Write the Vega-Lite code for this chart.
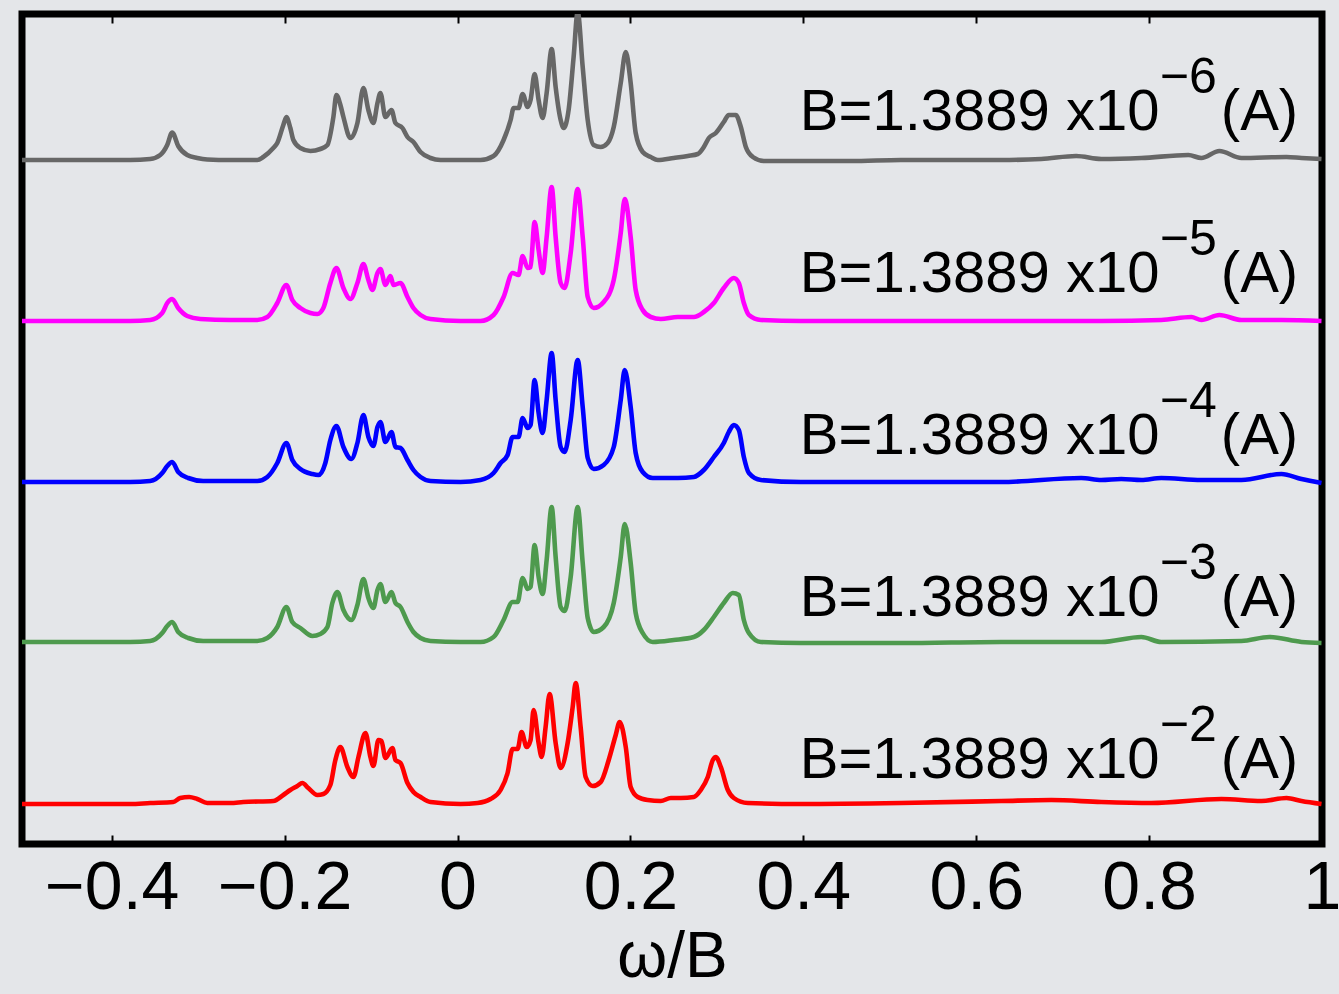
{
"$schema": "https://vega.github.io/schema/vega-lite/v6.json",
"width": 1300, "height": 830,
"autosize": {"type": "none"},
"padding": {"left": 22, "top": 14, "right": 17, "bottom": 150},
"background": "#e4e6e9",
"config": {"view": {"stroke": "#000000", "strokeWidth": 7, "fill": "#e4e6e9"}, "font": "Liberation Sans"},
"datasets": {
"curves": [
{"s":"a","x":-0.5038,"y":684},{"s":"a","x":-0.4598,"y":684},{"s":"a","x":-0.4134,"y":684},{"s":"a","x":-0.3787,"y":684},{"s":"a","x":-0.3555,"y":685},{"s":"a","x":-0.3439,"y":689},{"s":"a","x":-0.3358,"y":699},{"s":"a","x":-0.3301,"y":711.5},{"s":"a","x":-0.3231,"y":698},{"s":"a","x":-0.3127,"y":689},{"s":"a","x":-0.3011,"y":686},{"s":"a","x":-0.2895,"y":684.5},{"s":"a","x":-0.2629,"y":684},{"s":"a","x":-0.2316,"y":684},{"s":"a","x":-0.2247,"y":687},{"s":"a","x":-0.2131,"y":696},{"s":"a","x":-0.2085,"y":701},{"s":"a","x":-0.2015,"y":719},{"s":"a","x":-0.198,"y":727},{"s":"a","x":-0.1934,"y":716},{"s":"a","x":-0.1899,"y":704},{"s":"a","x":-0.1818,"y":696},{"s":"a","x":-0.1702,"y":693},{"s":"a","x":-0.1587,"y":695},{"s":"a","x":-0.1505,"y":699},{"s":"a","x":-0.1436,"y":727},{"s":"a","x":-0.1401,"y":749},{"s":"a","x":-0.1355,"y":739},{"s":"a","x":-0.132,"y":727},{"s":"a","x":-0.1239,"y":706},{"s":"a","x":-0.1158,"y":721},{"s":"a","x":-0.1089,"y":756},{"s":"a","x":-0.1031,"y":734},{"s":"a","x":-0.0973,"y":721},{"s":"a","x":-0.0926,"y":741},{"s":"a","x":-0.0892,"y":751},{"s":"a","x":-0.0834,"y":727},{"s":"a","x":-0.0764,"y":734},{"s":"a","x":-0.0718,"y":721},{"s":"a","x":-0.0637,"y":716},{"s":"a","x":-0.0579,"y":707},{"s":"a","x":-0.051,"y":702},{"s":"a","x":-0.0428,"y":692},{"s":"a","x":-0.0313,"y":686},{"s":"a","x":-0.0197,"y":684},{"s":"a","x":0.0035,"y":684},{"s":"a","x":0.0266,"y":684},{"s":"a","x":0.0417,"y":688},{"s":"a","x":0.0533,"y":704},{"s":"a","x":0.0614,"y":724},{"s":"a","x":0.0649,"y":736},{"s":"a","x":0.0706,"y":736},{"s":"a","x":0.0753,"y":750},{"s":"a","x":0.0811,"y":737},{"s":"a","x":0.0845,"y":744},{"s":"a","x":0.0892,"y":770},{"s":"a","x":0.0938,"y":744},{"s":"a","x":0.0984,"y":726},{"s":"a","x":0.1031,"y":751},{"s":"a","x":0.1089,"y":795},{"s":"a","x":0.1135,"y":757},{"s":"a","x":0.1193,"y":724},{"s":"a","x":0.1228,"y":716},{"s":"a","x":0.1285,"y":734},{"s":"a","x":0.1343,"y":787},{"s":"a","x":0.139,"y":832},{"s":"a","x":0.1448,"y":777},{"s":"a","x":0.1506,"y":724},{"s":"a","x":0.1575,"y":699},{"s":"a","x":0.1656,"y":697},{"s":"a","x":0.1737,"y":701},{"s":"a","x":0.1807,"y":717},{"s":"a","x":0.1888,"y":761},{"s":"a","x":0.1946,"y":792},{"s":"a","x":0.2003,"y":761},{"s":"a","x":0.2061,"y":711},{"s":"a","x":0.2142,"y":692},{"s":"a","x":0.2235,"y":687},{"s":"a","x":0.2316,"y":684},{"s":"a","x":0.2501,"y":686},{"s":"a","x":0.2664,"y":688},{"s":"a","x":0.2779,"y":690},{"s":"a","x":0.2849,"y":697},{"s":"a","x":0.2907,"y":706},{"s":"a","x":0.2988,"y":711},{"s":"a","x":0.308,"y":722},{"s":"a","x":0.3138,"y":729},{"s":"a","x":0.3219,"y":729},{"s":"a","x":0.3277,"y":717},{"s":"a","x":0.3335,"y":697},{"s":"a","x":0.3416,"y":687},{"s":"a","x":0.3544,"y":683},{"s":"a","x":0.3972,"y":683},{"s":"a","x":0.4551,"y":683},{"s":"a","x":0.513,"y":684},{"s":"a","x":0.5709,"y":684},{"s":"a","x":0.6288,"y":684},{"s":"a","x":0.6752,"y":685},{"s":"a","x":0.7157,"y":688},{"s":"a","x":0.7446,"y":685},{"s":"a","x":0.791,"y":686},{"s":"a","x":0.8454,"y":689},{"s":"a","x":0.8604,"y":686},{"s":"a","x":0.8813,"y":693},{"s":"a","x":0.9068,"y":686},{"s":"a","x":0.9589,"y":687},{"s":"a","x":0.9763,"y":686},{"s":"a","x":0.9994,"y":685},
{"s":"b","x":-0.5038,"y":523},{"s":"b","x":-0.4598,"y":523},{"s":"b","x":-0.4134,"y":523},{"s":"b","x":-0.3787,"y":523},{"s":"b","x":-0.3555,"y":524},{"s":"b","x":-0.3416,"y":531},{"s":"b","x":-0.3358,"y":541},{"s":"b","x":-0.3301,"y":545},{"s":"b","x":-0.3231,"y":536},{"s":"b","x":-0.3127,"y":528},{"s":"b","x":-0.2976,"y":525},{"s":"b","x":-0.2629,"y":524},{"s":"b","x":-0.2316,"y":524},{"s":"b","x":-0.22,"y":527},{"s":"b","x":-0.2085,"y":541},{"s":"b","x":-0.198,"y":559},{"s":"b","x":-0.1911,"y":544},{"s":"b","x":-0.1818,"y":536},{"s":"b","x":-0.1702,"y":531},{"s":"b","x":-0.1621,"y":530},{"s":"b","x":-0.1552,"y":536},{"s":"b","x":-0.1471,"y":561},{"s":"b","x":-0.1401,"y":576},{"s":"b","x":-0.132,"y":556},{"s":"b","x":-0.1239,"y":545},{"s":"b","x":-0.1158,"y":561},{"s":"b","x":-0.1089,"y":580},{"s":"b","x":-0.1031,"y":564},{"s":"b","x":-0.0984,"y":554},{"s":"b","x":-0.0926,"y":571},{"s":"b","x":-0.0892,"y":575},{"s":"b","x":-0.0834,"y":559},{"s":"b","x":-0.0776,"y":568},{"s":"b","x":-0.0741,"y":559},{"s":"b","x":-0.066,"y":561},{"s":"b","x":-0.0579,"y":547},{"s":"b","x":-0.051,"y":536},{"s":"b","x":-0.0428,"y":529},{"s":"b","x":-0.0313,"y":525},{"s":"b","x":0.0035,"y":523},{"s":"b","x":0.0266,"y":523},{"s":"b","x":0.0417,"y":529},{"s":"b","x":0.0533,"y":547},{"s":"b","x":0.0637,"y":571},{"s":"b","x":0.0706,"y":569},{"s":"b","x":0.0753,"y":588},{"s":"b","x":0.0811,"y":576},{"s":"b","x":0.0845,"y":577},{"s":"b","x":0.0892,"y":622},{"s":"b","x":0.0938,"y":594},{"s":"b","x":0.0984,"y":571},{"s":"b","x":0.1031,"y":607},{"s":"b","x":0.1089,"y":657},{"s":"b","x":0.1135,"y":607},{"s":"b","x":0.1193,"y":561},{"s":"b","x":0.1239,"y":556},{"s":"b","x":0.1309,"y":591},{"s":"b","x":0.139,"y":655},{"s":"b","x":0.1448,"y":607},{"s":"b","x":0.1506,"y":547},{"s":"b","x":0.1575,"y":536},{"s":"b","x":0.1691,"y":542},{"s":"b","x":0.1807,"y":564},{"s":"b","x":0.1888,"y":611},{"s":"b","x":0.1934,"y":645},{"s":"b","x":0.2003,"y":607},{"s":"b","x":0.2061,"y":554},{"s":"b","x":0.2142,"y":534},{"s":"b","x":0.2235,"y":527},{"s":"b","x":0.2351,"y":525},{"s":"b","x":0.2548,"y":527},{"s":"b","x":0.2733,"y":527},{"s":"b","x":0.2849,"y":532},{"s":"b","x":0.2965,"y":541},{"s":"b","x":0.308,"y":556},{"s":"b","x":0.3196,"y":566},{"s":"b","x":0.3254,"y":561},{"s":"b","x":0.3312,"y":541},{"s":"b","x":0.337,"y":529},{"s":"b","x":0.3509,"y":524},{"s":"b","x":0.3972,"y":523},{"s":"b","x":0.513,"y":523},{"s":"b","x":0.6288,"y":523},{"s":"b","x":0.7446,"y":523},{"s":"b","x":0.8141,"y":524},{"s":"b","x":0.8489,"y":527},{"s":"b","x":0.8604,"y":524},{"s":"b","x":0.8813,"y":529},{"s":"b","x":0.9068,"y":524},{"s":"b","x":0.9531,"y":524},{"s":"b","x":0.9994,"y":523},
{"s":"c","x":-0.5038,"y":362},{"s":"c","x":-0.4598,"y":362},{"s":"c","x":-0.4134,"y":362},{"s":"c","x":-0.3787,"y":362},{"s":"c","x":-0.3555,"y":363},{"s":"c","x":-0.3416,"y":371},{"s":"c","x":-0.3358,"y":378},{"s":"c","x":-0.3301,"y":382},{"s":"c","x":-0.3231,"y":372},{"s":"c","x":-0.3115,"y":366},{"s":"c","x":-0.2942,"y":363},{"s":"c","x":-0.2316,"y":363},{"s":"c","x":-0.22,"y":367},{"s":"c","x":-0.2085,"y":381},{"s":"c","x":-0.198,"y":401},{"s":"c","x":-0.1911,"y":384},{"s":"c","x":-0.1818,"y":375},{"s":"c","x":-0.1679,"y":370},{"s":"c","x":-0.161,"y":369},{"s":"c","x":-0.1529,"y":381},{"s":"c","x":-0.1471,"y":404},{"s":"c","x":-0.1401,"y":418},{"s":"c","x":-0.132,"y":397},{"s":"c","x":-0.1228,"y":385},{"s":"c","x":-0.1158,"y":401},{"s":"c","x":-0.1089,"y":429},{"s":"c","x":-0.1031,"y":407},{"s":"c","x":-0.0973,"y":398},{"s":"c","x":-0.0926,"y":417},{"s":"c","x":-0.0892,"y":422},{"s":"c","x":-0.0834,"y":402},{"s":"c","x":-0.0764,"y":412},{"s":"c","x":-0.0718,"y":397},{"s":"c","x":-0.066,"y":396},{"s":"c","x":-0.0579,"y":384},{"s":"c","x":-0.051,"y":374},{"s":"c","x":-0.0428,"y":367},{"s":"c","x":-0.0313,"y":363},{"s":"c","x":0.0035,"y":362},{"s":"c","x":0.0266,"y":364},{"s":"c","x":0.0417,"y":371},{"s":"c","x":0.0498,"y":381},{"s":"c","x":0.0579,"y":389},{"s":"c","x":0.0637,"y":407},{"s":"c","x":0.0706,"y":407},{"s":"c","x":0.0753,"y":426},{"s":"c","x":0.0811,"y":416},{"s":"c","x":0.0845,"y":419},{"s":"c","x":0.0892,"y":464},{"s":"c","x":0.0938,"y":431},{"s":"c","x":0.0984,"y":411},{"s":"c","x":0.1031,"y":444},{"s":"c","x":0.1089,"y":491},{"s":"c","x":0.1135,"y":444},{"s":"c","x":0.1193,"y":397},{"s":"c","x":0.1239,"y":392},{"s":"c","x":0.1309,"y":424},{"s":"c","x":0.139,"y":484},{"s":"c","x":0.1448,"y":437},{"s":"c","x":0.1506,"y":386},{"s":"c","x":0.1575,"y":375},{"s":"c","x":0.1691,"y":379},{"s":"c","x":0.1807,"y":397},{"s":"c","x":0.1888,"y":444},{"s":"c","x":0.1934,"y":474},{"s":"c","x":0.2003,"y":437},{"s":"c","x":0.2061,"y":391},{"s":"c","x":0.2142,"y":372},{"s":"c","x":0.2258,"y":366},{"s":"c","x":0.2548,"y":366},{"s":"c","x":0.2733,"y":367},{"s":"c","x":0.2849,"y":374},{"s":"c","x":0.2965,"y":387},{"s":"c","x":0.308,"y":401},{"s":"c","x":0.3138,"y":412},{"s":"c","x":0.3196,"y":419},{"s":"c","x":0.3254,"y":414},{"s":"c","x":0.3312,"y":387},{"s":"c","x":0.337,"y":371},{"s":"c","x":0.3509,"y":364},{"s":"c","x":0.3972,"y":362},{"s":"c","x":0.513,"y":362},{"s":"c","x":0.6288,"y":362},{"s":"c","x":0.7215,"y":366},{"s":"c","x":0.7446,"y":364},{"s":"c","x":0.7678,"y":365},{"s":"c","x":0.791,"y":364},{"s":"c","x":0.8141,"y":366},{"s":"c","x":0.8604,"y":364},{"s":"c","x":0.9068,"y":364},{"s":"c","x":0.9531,"y":370},{"s":"c","x":0.9763,"y":365},{"s":"c","x":0.9994,"y":361},
{"s":"d","x":-0.5038,"y":202},{"s":"d","x":-0.4598,"y":202},{"s":"d","x":-0.4134,"y":202},{"s":"d","x":-0.3787,"y":202},{"s":"d","x":-0.3555,"y":203},{"s":"d","x":-0.3416,"y":211},{"s":"d","x":-0.3358,"y":218},{"s":"d","x":-0.3301,"y":222},{"s":"d","x":-0.3231,"y":212},{"s":"d","x":-0.3115,"y":206},{"s":"d","x":-0.2942,"y":203},{"s":"d","x":-0.2316,"y":203},{"s":"d","x":-0.22,"y":206},{"s":"d","x":-0.2085,"y":217},{"s":"d","x":-0.198,"y":237},{"s":"d","x":-0.1911,"y":222},{"s":"d","x":-0.1818,"y":216},{"s":"d","x":-0.1679,"y":208},{"s":"d","x":-0.1587,"y":210},{"s":"d","x":-0.1505,"y":217},{"s":"d","x":-0.1448,"y":241},{"s":"d","x":-0.139,"y":252},{"s":"d","x":-0.132,"y":234},{"s":"d","x":-0.1228,"y":224},{"s":"d","x":-0.1158,"y":239},{"s":"d","x":-0.1089,"y":265},{"s":"d","x":-0.1031,"y":246},{"s":"d","x":-0.0973,"y":236},{"s":"d","x":-0.0926,"y":254},{"s":"d","x":-0.0892,"y":260},{"s":"d","x":-0.0834,"y":242},{"s":"d","x":-0.0764,"y":252},{"s":"d","x":-0.0718,"y":241},{"s":"d","x":-0.066,"y":237},{"s":"d","x":-0.0579,"y":222},{"s":"d","x":-0.051,"y":212},{"s":"d","x":-0.0428,"y":206},{"s":"d","x":-0.0313,"y":203},{"s":"d","x":0.0035,"y":202},{"s":"d","x":0.0266,"y":202},{"s":"d","x":0.0417,"y":207},{"s":"d","x":0.0533,"y":224},{"s":"d","x":0.0637,"y":242},{"s":"d","x":0.0695,"y":242},{"s":"d","x":0.0753,"y":266},{"s":"d","x":0.0811,"y":255},{"s":"d","x":0.0845,"y":257},{"s":"d","x":0.0892,"y":299},{"s":"d","x":0.0938,"y":267},{"s":"d","x":0.0984,"y":250},{"s":"d","x":0.1031,"y":284},{"s":"d","x":0.1089,"y":337},{"s":"d","x":0.1135,"y":287},{"s":"d","x":0.1193,"y":237},{"s":"d","x":0.1239,"y":233},{"s":"d","x":0.1309,"y":267},{"s":"d","x":0.139,"y":337},{"s":"d","x":0.1448,"y":281},{"s":"d","x":0.1506,"y":226},{"s":"d","x":0.1575,"y":212},{"s":"d","x":0.1691,"y":217},{"s":"d","x":0.1807,"y":241},{"s":"d","x":0.1888,"y":287},{"s":"d","x":0.1934,"y":320},{"s":"d","x":0.2003,"y":281},{"s":"d","x":0.2061,"y":231},{"s":"d","x":0.2142,"y":211},{"s":"d","x":0.2258,"y":202},{"s":"d","x":0.2501,"y":204},{"s":"d","x":0.2733,"y":207},{"s":"d","x":0.2849,"y":214},{"s":"d","x":0.2965,"y":227},{"s":"d","x":0.308,"y":241},{"s":"d","x":0.3185,"y":251},{"s":"d","x":0.3254,"y":249},{"s":"d","x":0.3312,"y":224},{"s":"d","x":0.337,"y":211},{"s":"d","x":0.3509,"y":202},{"s":"d","x":0.3972,"y":201},{"s":"d","x":0.513,"y":201},{"s":"d","x":0.6288,"y":202},{"s":"d","x":0.7446,"y":202},{"s":"d","x":0.791,"y":207},{"s":"d","x":0.8141,"y":202},{"s":"d","x":0.9068,"y":203},{"s":"d","x":0.9392,"y":207},{"s":"d","x":0.9763,"y":202},{"s":"d","x":0.9994,"y":201},
{"s":"e","x":-0.5038,"y":40},{"s":"e","x":-0.4598,"y":40},{"s":"e","x":-0.4134,"y":40},{"s":"e","x":-0.3787,"y":40},{"s":"e","x":-0.3555,"y":41},{"s":"e","x":-0.3289,"y":42},{"s":"e","x":-0.3208,"y":46},{"s":"e","x":-0.3104,"y":47},{"s":"e","x":-0.3011,"y":45},{"s":"e","x":-0.2895,"y":41},{"s":"e","x":-0.2629,"y":41},{"s":"e","x":-0.2478,"y":42},{"s":"e","x":-0.2131,"y":43},{"s":"e","x":-0.2015,"y":49},{"s":"e","x":-0.1934,"y":54},{"s":"e","x":-0.1853,"y":58},{"s":"e","x":-0.1795,"y":61},{"s":"e","x":-0.1726,"y":56},{"s":"e","x":-0.1621,"y":49},{"s":"e","x":-0.1552,"y":50},{"s":"e","x":-0.1471,"y":59},{"s":"e","x":-0.1413,"y":84},{"s":"e","x":-0.1355,"y":97},{"s":"e","x":-0.1274,"y":77},{"s":"e","x":-0.1204,"y":67},{"s":"e","x":-0.1146,"y":87},{"s":"e","x":-0.1065,"y":111},{"s":"e","x":-0.1008,"y":87},{"s":"e","x":-0.0973,"y":78},{"s":"e","x":-0.0915,"y":104},{"s":"e","x":-0.088,"y":103},{"s":"e","x":-0.0834,"y":86},{"s":"e","x":-0.0753,"y":96},{"s":"e","x":-0.0718,"y":84},{"s":"e","x":-0.066,"y":81},{"s":"e","x":-0.0579,"y":61},{"s":"e","x":-0.051,"y":52},{"s":"e","x":-0.0428,"y":47},{"s":"e","x":-0.0313,"y":42},{"s":"e","x":0.0035,"y":40},{"s":"e","x":0.0232,"y":41},{"s":"e","x":0.0382,"y":45},{"s":"e","x":0.0498,"y":54},{"s":"e","x":0.0579,"y":71},{"s":"e","x":0.0637,"y":95},{"s":"e","x":0.0695,"y":95},{"s":"e","x":0.0741,"y":112},{"s":"e","x":0.0799,"y":97},{"s":"e","x":0.0845,"y":104},{"s":"e","x":0.088,"y":134},{"s":"e","x":0.0938,"y":101},{"s":"e","x":0.0973,"y":87},{"s":"e","x":0.1019,"y":117},{"s":"e","x":0.1065,"y":150},{"s":"e","x":0.1135,"y":101},{"s":"e","x":0.1193,"y":76},{"s":"e","x":0.1274,"y":101},{"s":"e","x":0.1332,"y":137},{"s":"e","x":0.1367,"y":161},{"s":"e","x":0.1424,"y":117},{"s":"e","x":0.1482,"y":67},{"s":"e","x":0.1563,"y":58},{"s":"e","x":0.1656,"y":62},{"s":"e","x":0.1749,"y":84},{"s":"e","x":0.183,"y":109},{"s":"e","x":0.1876,"y":122},{"s":"e","x":0.1946,"y":97},{"s":"e","x":0.2003,"y":57},{"s":"e","x":0.2085,"y":47},{"s":"e","x":0.22,"y":44},{"s":"e","x":0.2351,"y":43},{"s":"e","x":0.2467,"y":46},{"s":"e","x":0.2583,"y":46},{"s":"e","x":0.2733,"y":47},{"s":"e","x":0.2814,"y":54},{"s":"e","x":0.2895,"y":67},{"s":"e","x":0.2953,"y":84},{"s":"e","x":0.2988,"y":87},{"s":"e","x":0.3046,"y":77},{"s":"e","x":0.3127,"y":54},{"s":"e","x":0.3196,"y":46},{"s":"e","x":0.3358,"y":41},{"s":"e","x":0.3972,"y":40},{"s":"e","x":0.513,"y":41},{"s":"e","x":0.6288,"y":43},{"s":"e","x":0.6867,"y":44},{"s":"e","x":0.7446,"y":42},{"s":"e","x":0.8025,"y":41},{"s":"e","x":0.8836,"y":45},{"s":"e","x":0.9299,"y":43},{"s":"e","x":0.9589,"y":46},{"s":"e","x":0.9763,"y":43},{"s":"e","x":0.9994,"y":40}
],
"labels": [
{"x":0.396,"y":714,"t":"B=1.3889 x10","e":"−6"},
{"x":0.396,"y":552,"t":"B=1.3889 x10","e":"−5"},
{"x":0.396,"y":390,"t":"B=1.3889 x10","e":"−4"},
{"x":0.396,"y":228,"t":"B=1.3889 x10","e":"−3"},
{"x":0.396,"y":66,"t":"B=1.3889 x10","e":"−2"}
]
},
"layer": [
{
"data": {"name": "curves"},
"mark": {"type": "line", "strokeWidth": 4.6, "interpolate": "monotone", "clip": true},
"encoding": {
"x": {"field": "x", "type": "quantitative", "scale": {"domain": [-0.5038, 1.0], "nice": false, "zero": false},
"axis": {"orient": "bottom", "values": [-0.4, -0.2, 0, 0.2, 0.4, 0.6, 0.8, 1], "format": "~g", "domain": false, "grid": false, "ticks": true, "tickSize": -9, "tickWidth": 2, "tickColor": "#000000", "labelFontSize": 68, "labelFont": "Liberation Sans", "labelColor": "#000000", "labelPadding": 19, "labelFlush": false, "labelOverlap": false, "labelBound": false, "title": "ω/B", "titleFont": "Liberation Sans", "titleFontSize": 64, "titleFontWeight": "normal", "titleColor": "#000000", "titlePadding": 3}},
"y": {"field": "y", "type": "quantitative", "scale": {"domain": [0, 830], "nice": false, "zero": false}, "axis": null},
"color": {"field": "s", "type": "nominal", "scale": {"domain": ["a", "b", "c", "d", "e"], "range": ["#676767", "#ff00ff", "#0000ff", "#4e9a4e", "#ff0000"]}, "legend": null}
}
},
{
"data": {"name": "labels"},
"mark": {"type": "text", "fontSize": 58, "font": "Liberation Sans", "align": "left", "baseline": "alphabetic", "color": "#000000"},
"encoding": {
"x": {"field": "x", "type": "quantitative", "axis": {"orient": "top", "values": [-0.4, -0.2, 0, 0.2, 0.4, 0.6, 0.8, 1], "labels": false, "domain": false, "grid": false, "ticks": true, "tickSize": -9, "tickWidth": 2, "tickColor": "#000000", "title": null}},
"y": {"field": "y", "type": "quantitative"},
"text": {"field": "t"}
}
},
{
"data": {"name": "labels"},
"mark": {"type": "text", "fontSize": 50, "font": "Liberation Sans", "align": "left", "baseline": "alphabetic", "color": "#000000", "dx": 360, "dy": -37},
"encoding": {
"x": {"field": "x", "type": "quantitative", "axis": null},
"y": {"field": "y", "type": "quantitative"},
"text": {"field": "e"}
}
},
{
"data": {"name": "labels"},
"mark": {"type": "text", "fontSize": 58, "font": "Liberation Sans", "align": "left", "baseline": "alphabetic", "color": "#000000", "dx": 421},
"encoding": {
"x": {"field": "x", "type": "quantitative", "axis": null},
"y": {"field": "y", "type": "quantitative"},
"text": {"value": "(A)"}
}
}
],
"resolve": {"axis": {"x": "independent"}}
}
